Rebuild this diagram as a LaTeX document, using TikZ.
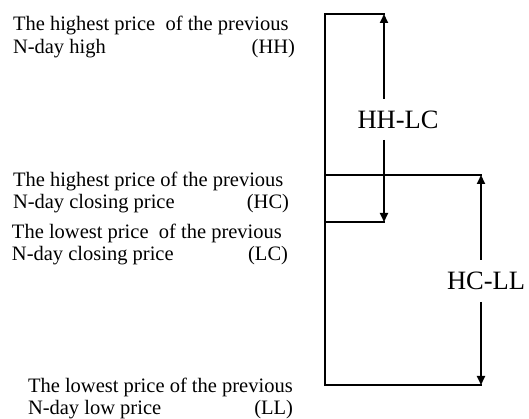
\documentclass[tikz,border=0pt]{standalone}
\usepackage{fontspec}
\setmainfont{Liberation Serif}
\usetikzlibrary{arrows.meta}
\begin{document}
\begin{tikzpicture}[x=1pt,y=1pt,
  lbl/.style={inner sep=0pt, outer sep=0pt, anchor=base west,
    font=\fontsize{20.5}{23}\selectfont},
  tag/.style={lbl, anchor=base east},
  diff/.style={inner sep=0pt, font=\fontsize{26.5}{30}\selectfont},
  bar/.style={line width=1.8pt, line cap=rect},
  arr/.style={line width=1.8pt, -{Triangle[length=9pt,width=8pt]}}]
\useasboundingbox (0,0) rectangle (529,419);
% text blocks
\node[lbl] (hh1) at (13,388) {The highest price\ \ of the previous};
\node[lbl] (hh2) at (13,365) {N-day high};
\node[tag] (hh3) at (295,365) {(HH)};
\node[lbl] (hc1) at (13,232) {The highest price of the previous};
\node[lbl] (hc2) at (13,210) {N-day closing price};
\node[tag] (hc3) at (289,210) {(HC)};
\node[lbl] (lc1) at (12,180) {The lowest price\ \ of the previous};
\node[lbl] (lc2) at (12,158) {N-day closing price};
\node[tag] (lc3) at (288,158) {(LC)};
\node[lbl] (ll1) at (28,26) {The lowest price of the previous};
\node[lbl] (ll2) at (28,4) {N-day low price};
\node[tag] (ll3) at (293,4) {(LL)};
% structure points
\coordinate (L1) at (325,405);
\coordinate (L2) at (325,244);
\coordinate (L3) at (325,197);
\coordinate (L4) at (325,34);
\coordinate (A1top) at (384,405);
\coordinate (A1bot) at (384,197);
\coordinate (A2top) at (481,244);
\coordinate (A2bot) at (481,34);
\coordinate (A1s) at (384,320);
\coordinate (A1e) at (384,279);
\coordinate (A2s) at (481,159);
\coordinate (A2e) at (481,117);
% difference labels
\node[diff] (hhlc) at (398,299) {HH-LC};
\node[diff] (hcll) at (486,138) {HC-LL};
% bracket lines
\draw[bar] (L1) -- (L4);
\draw[bar] (L1) -- (A1top);
\draw[bar] (L2) -- (A2top);
\draw[bar] (L3) -- (A1bot);
\draw[bar] (L4) -- (A2bot);
% arrows
\draw[arr] (A1s) -- (A1top);
\draw[arr] (A1e) -- (A1bot);
\draw[arr] (A2s) -- (A2top);
\draw[arr] (A2e) -- (A2bot);
\end{tikzpicture}
\end{document}
